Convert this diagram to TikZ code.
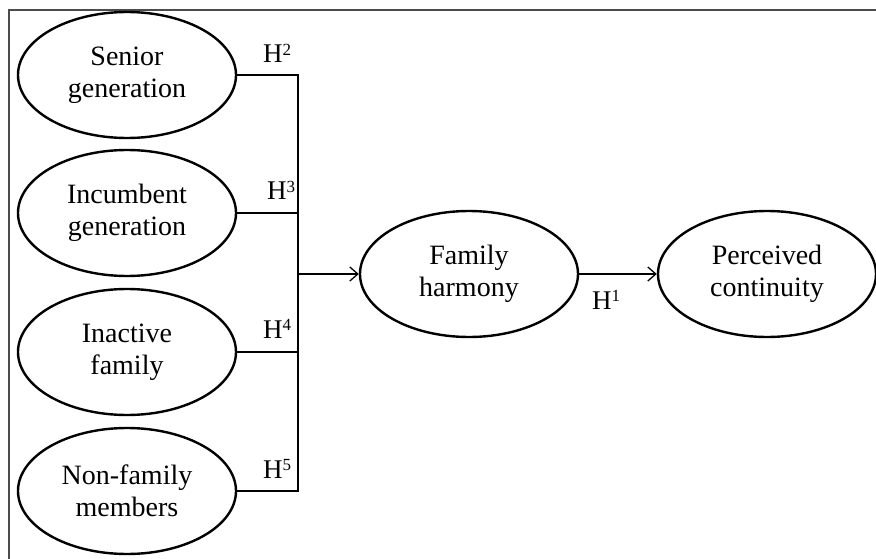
\documentclass[tikz,border=0pt]{standalone}
\usepackage{fontspec}
\setmainfont{Liberation Serif}
\usetikzlibrary{shapes.geometric,arrows.meta}
\newcommand{\hsup}[1]{H\raisebox{7.5pt}{\fontsize{17}{17}\selectfont #1}}
\begin{document}
\begin{tikzpicture}[x=1pt,y=1pt,
  oval/.style={ellipse,draw=black,line width=2.4pt,minimum width=218pt,minimum height=126pt,inner sep=0pt,align=center,font=\fontsize{28}{32}\selectfont},
  hyp/.style={font=\fontsize{27}{30}\selectfont,inner sep=0pt,anchor=base west},
  conn/.style={draw=black,line width=1.3pt},
  arr/.style={conn,-{Straight Barb[length=8pt,width=14pt,line width=1.3pt]}}]
\useasboundingbox (0,0) rectangle (876,-559);
\draw[gray!60!black,line width=1.2pt] (9,-570) -- (9,-10) -- (890,-10);
\node[oval] (sg) at (127,-75) {Senior\\generation};
\node[oval] (ig) at (127,-213) {Incumbent\\generation};
\node[oval] (if) at (127,-352) {Inactive\\family};
\node[oval] (nf) at (127,-491) {Non-family\\members};
\node[oval] (fh) at (469,-274) {Family\\harmony};
\node[oval] (pc) at (767,-274) {Perceived\\continuity};
\coordinate (j) at (298,-274);
\draw[conn] (sg.east) -| (j);
\draw[conn] (ig.east) -| (j);
\draw[conn] (if.east) -| (j);
\draw[conn] (nf.east) -| (j);
\draw[arr] (j) -- (fh.west);
\draw[arr] (fh.east) -- (pc.west);
\node[hyp] (h2) at (263,-63) {\hsup{2}};
\node[hyp] (h3) at (267,-200) {\hsup{3}};
\node[hyp] (h4) at (263,-338) {\hsup{4}};
\node[hyp] (h5) at (263,-478) {\hsup{5}};
\node[hyp] (h1) at (592,-309) {\hsup{1}};
\end{tikzpicture}
\end{document}
